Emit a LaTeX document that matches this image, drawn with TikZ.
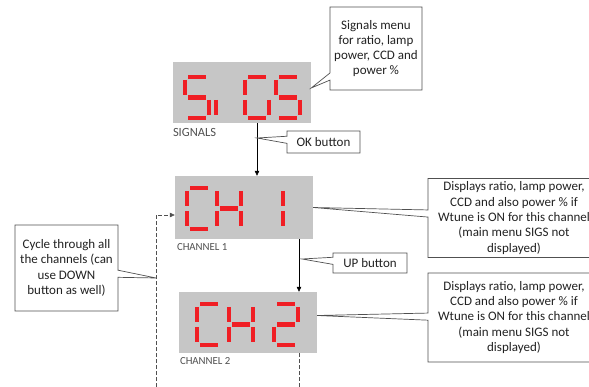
\documentclass[tikz,border=0pt]{standalone}
\usepackage{fontspec}
\setmainfont{Carlito}
\usepackage{tikz}
\usetikzlibrary{positioning,arrows.meta,calc,shapes.callouts}
\definecolor{cPanel}{HTML}{C6C6C6}
\definecolor{cSeg}{HTML}{F01E24}
\definecolor{cLine}{HTML}{505050}
\definecolor{cText}{HTML}{222222}
% seven segment pieces, top left corner at (0,0), y grows downwards
\newcommand\sega{(3,0)--(21,0)}
\newcommand\segb{(24,3)--(24,18)}
\newcommand\segc{(24,23)--(24,38)}
\newcommand\segd{(3,41)--(21,41)}
\newcommand\sege{(0,23)--(0,38)}
\newcommand\segf{(0,3)--(0,18)}
\newcommand\segg{(3,20.5)--(21,20.5)}
\newcommand{\segdigit}[3]{%
  \begin{scope}[shift={(#1,#2)}]
    \foreach \s in {#3}{\draw[seg] \csname seg\s\endcsname;}
  \end{scope}}
\tikzset{
  display/.style={fill=cPanel,draw=none,minimum width=138,minimum height=61,inner sep=0pt},
  seg/.style={cSeg,line width=4.2pt},
  note/.style={rectangle callout,draw=cLine,fill=white,line width=0.7pt,align=center,
    font=\fontsize{13}{15.3}\selectfont,text=cText,inner sep=1pt},
  lbl/.style={font=\fontsize{10.8}{12}\selectfont,text=cLine,inner sep=0pt,anchor=north west},
  arr/.style={-{Triangle[length=5pt,width=4.5pt]},line width=0.6pt},
  darr/.style={-{Triangle[length=5pt,width=4.5pt]},line width=0.6pt,draw=cLine,dash pattern=on 4pt off 2pt},
  dline/.style={line width=0.6pt,draw=cLine,dash pattern=on 4pt off 2pt}}
\begin{document}
\begin{tikzpicture}[x=1pt,y=-1pt]
\useasboundingbox (0,0) rectangle (589,387);
% displays
\node[display] (sigs) at (242,92.5) {};
\node[display,minimum height=63] (ch1) at (244,207.5) {};
\node[display] (ch2) at (248,322.5) {};
\segdigit{185}{77}{a,f,g,c,d}
\segdigit{216}{77}{e}
\segdigit{245}{77}{a,f,e,d,c}
\segdigit{276}{77}{a,f,g,c,d}
\segdigit{187}{188}{a,f,e,d}
\segdigit{217}{188}{b,c,e,f,g}
\segdigit{259}{188}{b,c}
\segdigit{197}{304}{a,f,e,d}
\segdigit{229}{304}{b,c,e,f,g}
\segdigit{274}{304}{a,b,g,e,d}
\node[lbl,font=\fontsize{12.5}{14}\selectfont] (siglbl) at ([yshift=-5pt]sigs.south west) {SIGNALS};
\node[lbl] (ch1lbl) at ([xshift=2pt,yshift=-4pt]ch1.south west) {CHANNEL 1};
\node[lbl] (ch2lbl) at ([xshift=1pt,yshift=-4pt]ch2.south west) {CHANNEL 2};
% flow
\draw[arr] ([xshift=15pt]sigs.south) -- ([xshift=15pt]sigs.south |- ch1.north);
\draw[arr] ([xshift=55pt]ch1.south) -- ([xshift=55pt]ch1.south |- ch2.north);
\coordinate (downend) at (299,387);
\draw[dline] ([xshift=51pt]ch2.south) -- (downend);
\coordinate (loopend) at (156,387);
\draw[darr] (loopend) |- ([yshift=-7.5pt]ch1.west);
% notes
\node[note,minimum width=92,minimum height=83,callout absolute pointer={([yshift=4.5pt]sigs.east)}]
  (sigmenu) at (376,48.5) {Signals menu\\for ratio, lamp\\power, CCD and\\power \%};
\node[note,minimum width=73,minimum height=22,callout absolute pointer={(257,138)}]
  (okbtn) at (323.5,142) {OK button};
\node[note,minimum width=74,minimum height=20,callout absolute pointer={(302,259)}]
  (upbtn) at (370,263) {UP button};
\node[note,minimum width=172,minimum height=79,callout absolute pointer={(ch1.east)}]
  (ch1menu) at (514,218) {Displays ratio, lamp power,\\CCD and also power \% if\\Wtune is ON for this channel\\(main menu SIGS not\\displayed)};
\node[note,minimum width=172,minimum height=89,callout absolute pointer={([yshift=7pt]ch2.east)}]
  (ch2menu) at (514,317.5) {Displays ratio, lamp power,\\CCD and also power \% if\\Wtune is ON for this channel\\(main menu SIGS not\\displayed)};
\node[note,minimum width=103,minimum height=86,callout absolute pointer={(156,278)}]
  (cycle) at (66.5,268) {Cycle through all\\the channels (can\\use DOWN\\button as well)};
\end{tikzpicture}
\end{document}
